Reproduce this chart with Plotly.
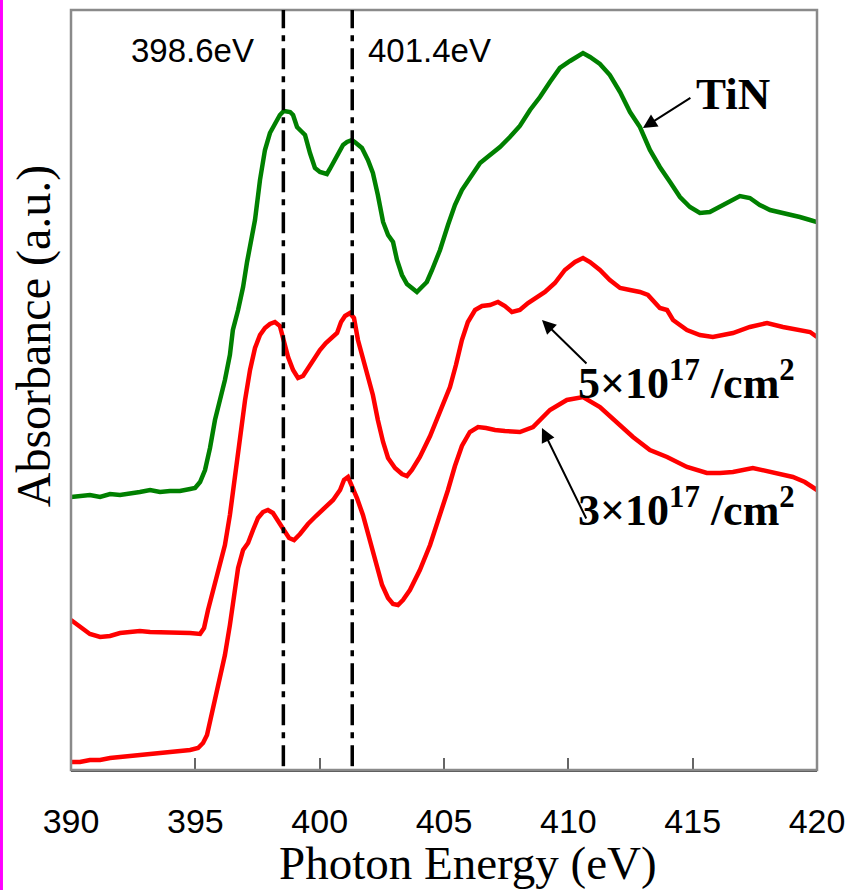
import plotly.graph_objects as go

# ---------------- data ----------------
tin_x = [390.0, 390.36, 390.76, 391.17, 391.57, 391.97, 392.37, 392.77, 393.18, 393.58, 393.98, 394.38,
         394.79, 394.99, 395.19, 395.39, 395.59, 395.79, 395.99, 396.19, 396.39, 396.51, 396.72, 396.92,
         397.08, 397.20, 397.40, 397.60, 397.80, 398.00, 398.20, 398.40, 398.56, 398.69, 398.81, 398.93,
         399.09, 399.29, 399.41, 399.61, 399.81, 400.01, 400.17, 400.29, 400.41, 400.54, 400.74, 400.94,
         401.10, 401.30, 401.46, 401.70, 401.94, 402.14, 402.34, 402.55, 402.75, 402.95, 403.11, 403.31,
         403.51, 403.71, 403.91, 404.11, 404.31, 404.52, 404.84, 405.16, 405.44, 405.72, 406.04, 406.45,
         406.85, 407.25, 407.65, 408.05, 408.46, 408.86, 409.26, 409.66, 410.07, 410.39, 410.59, 410.87,
         411.27, 411.67, 412.08, 412.48, 412.88, 413.28, 413.68, 414.09, 414.49, 414.89, 415.29, 415.69,
         416.10, 416.50, 416.90, 417.30, 417.70, 418.11, 418.51, 418.91, 419.31, 419.72, 420.0]
tin_y = [2.73, 2.74, 2.75, 2.73, 2.76, 2.75, 2.76, 2.78, 2.80, 2.78, 2.79, 2.79,
         2.81, 2.82, 2.88, 3.00, 3.22, 3.50, 3.70, 3.90, 4.15, 4.40, 4.60, 4.83,
         5.08, 5.25, 5.50, 5.90, 6.20, 6.37, 6.46, 6.55, 6.59, 6.59, 6.58, 6.55,
         6.43, 6.38, 6.35, 6.17, 6.02, 5.98, 5.97, 5.96, 6.01, 6.07, 6.15, 6.25,
         6.28, 6.30, 6.27, 6.22, 6.10, 5.97, 5.75, 5.48, 5.35, 5.28, 5.10, 4.95,
         4.86, 4.82, 4.78, 4.83, 4.88, 5.00, 5.20, 5.45, 5.65, 5.80, 5.92, 6.07,
         6.15, 6.23, 6.33, 6.44, 6.60, 6.73, 6.88, 7.02, 7.09, 7.14, 7.17, 7.13,
         7.06, 6.95, 6.78, 6.58, 6.43, 6.20, 6.03, 5.88, 5.73, 5.63, 5.57, 5.58,
         5.63, 5.68, 5.74, 5.72, 5.65, 5.60, 5.58, 5.55, 5.53, 5.50, 5.48]

d5_x = [390.0, 390.36, 390.76, 391.17, 391.57, 391.97, 392.37, 392.77, 393.18, 393.58, 393.98, 394.38,
        394.79, 395.19, 395.35, 395.51, 395.67, 395.83, 395.99, 396.19, 396.39, 396.59, 396.80, 397.00,
        397.20, 397.40, 397.60, 397.80, 398.00, 398.20, 398.40, 398.56, 398.73, 398.93, 399.13, 399.33,
        399.53, 399.77, 400.01, 400.25, 400.49, 400.70, 400.86, 401.02, 401.22, 401.38, 401.54, 401.74,
        401.94, 402.14, 402.34, 402.55, 402.75, 403.03, 403.31, 403.51, 403.71, 404.03, 404.44, 404.84,
        405.24, 405.48, 405.72, 405.96, 406.25, 406.53, 406.85, 407.17, 407.45, 407.73, 408.05, 408.38,
        408.66, 409.06, 409.46, 409.86, 410.27, 410.59, 410.87, 411.27, 411.67, 412.08, 412.48, 412.88,
        413.20, 413.40, 413.68, 413.97, 414.21, 414.77, 415.29, 415.81, 416.62, 417.30, 417.99, 418.63,
        419.31, 419.72, 420.0]
d5_y = [1.50, 1.44, 1.36, 1.33, 1.34, 1.37, 1.38, 1.39, 1.38, 1.38, 1.38, 1.37,
        1.37, 1.36, 1.42, 1.60, 1.75, 1.90, 2.03, 2.25, 2.55, 2.95, 3.30, 3.70,
        4.00, 4.22, 4.35, 4.42, 4.46, 4.48, 4.44, 4.30, 4.13, 4.00, 3.92, 3.94,
        4.02, 4.12, 4.20, 4.27, 4.33, 4.37, 4.48, 4.54, 4.57, 4.52, 4.30, 4.12,
        3.95, 3.75, 3.50, 3.28, 3.12, 3.02, 2.96, 2.94, 3.00, 3.13, 3.34, 3.58,
        3.83, 4.05, 4.30, 4.48, 4.60, 4.64, 4.65, 4.68, 4.64, 4.58, 4.60, 4.67,
        4.72, 4.78, 4.87, 5.00, 5.08, 5.12, 5.08, 5.00, 4.90, 4.82, 4.80, 4.78,
        4.75, 4.70, 4.62, 4.60, 4.50, 4.40, 4.35, 4.33, 4.37, 4.43, 4.47, 4.43,
        4.40, 4.38, 4.33]

d3_x = [390.0, 390.36, 390.76, 391.17, 391.57, 391.97, 392.37, 392.77, 393.18, 393.58, 393.98, 394.38,
        394.79, 395.11, 395.31, 395.47, 395.63, 395.79, 395.99, 396.19, 396.39, 396.55, 396.72, 396.92,
        397.12, 397.32, 397.52, 397.72, 397.92, 398.12, 398.32, 398.56, 398.77, 398.97, 399.21, 399.53,
        399.85, 400.21, 400.54, 400.82, 400.98, 401.14, 401.30, 401.50, 401.74, 402.02, 402.26, 402.51,
        402.75, 402.95, 403.15, 403.35, 403.63, 404.03, 404.44, 404.84, 405.16, 405.44, 405.72, 406.04,
        406.37, 406.69, 407.05, 407.45, 407.85, 408.05, 408.58, 409.26, 409.94, 410.59, 411.27, 411.95,
        412.60, 413.28, 413.97, 414.77, 415.57, 416.10, 416.62, 417.42, 418.23, 419.03, 419.51, 420.0]
d3_y = [0.08, 0.08, 0.10, 0.10, 0.12, 0.13, 0.13, 0.14, 0.15, 0.16, 0.17, 0.18,
        0.20, 0.22, 0.27, 0.35, 0.52, 0.70, 0.90, 1.15, 1.45, 1.75, 2.02, 2.20,
        2.27, 2.40, 2.52, 2.58, 2.60, 2.57, 2.50, 2.40, 2.32, 2.30, 2.36, 2.46,
        2.54, 2.62, 2.70, 2.80, 2.90, 2.93, 2.84, 2.72, 2.55, 2.30, 2.05, 1.85,
        1.72, 1.66, 1.65, 1.70, 1.80, 2.00, 2.25, 2.54, 2.80, 3.04, 3.24, 3.38,
        3.43, 3.42, 3.40, 3.39, 3.38, 3.38, 3.43, 3.60, 3.70, 3.73, 3.63, 3.47,
        3.33, 3.20, 3.13, 3.03, 2.97, 2.97, 2.98, 3.02, 2.98, 2.93, 2.88, 2.80]

peak_lines = [398.54, 401.31]
peak_labels = ["398.6eV", "401.4eV"]
x_ticks = [390, 395, 400, 405, 410, 415, 420]

# ---------------- figure ----------------
fig = go.Figure()
fig.add_trace(go.Scatter(x=tin_x, y=tin_y, mode="lines", line=dict(color="#008000", width=4.5), name="TiN"))
fig.add_trace(go.Scatter(x=d5_x, y=d5_y, mode="lines", line=dict(color="#ff0000", width=4.5), name="5e17"))
fig.add_trace(go.Scatter(x=d3_x, y=d3_y, mode="lines", line=dict(color="#ff0000", width=4.5), name="3e17"))

# frame (gray) and left magenta border
fig.add_shape(type="rect", xref="paper", yref="paper", x0=0, x1=1, y0=0, y1=1,
              line=dict(color="#8a8a8a", width=2.5), layer="above")
fig.add_shape(type="line", xref="paper", yref="paper", x0=-0.0932, x1=-0.0932, y0=-0.2, y1=1.02,
              line=dict(color="#ff00ff", width=3))

for xv in peak_lines:
    fig.add_shape(type="line", xref="x", yref="paper", x0=xv, x1=xv, y0=0.005, y1=1,
                  line=dict(color="black", width=3.5, dash="21px,7px,6px,7px"))

serif = "Liberation Serif, Times New Roman, serif"
sans = "Liberation Sans, Arial, sans-serif"

ann = []
ann.append(dict(x=394.87, y=7.20, text=peak_labels[0], showarrow=False, xref="x", yref="y",
                font=dict(family=sans, size=33, color="black")))
ann.append(dict(x=404.43, y=7.20, text=peak_labels[1], showarrow=False, xref="x", yref="y",
                font=dict(family=sans, size=33, color="black")))
ann.append(dict(x=416.62, y=6.76, text="<b>TiN</b>", showarrow=False, xref="x", yref="y",
                font=dict(family=serif, size=45, color="black")))
ann.append(dict(x=410.31, y=3.90, text="<b>5\u00d710<sup>17</sup> /cm<sup>2</sup></b>", showarrow=False,
                xref="x", yref="y", xanchor="left", font=dict(family=serif, size=44, color="black")))
ann.append(dict(x=410.31, y=2.63, text="<b>3\u00d710<sup>17</sup> /cm<sup>2</sup></b>", showarrow=False,
                xref="x", yref="y", xanchor="left", font=dict(family=serif, size=44, color="black")))
# arrows
for (tx, ty, hx, hy) in [(414.97, 6.73, 413.0, 6.42), (410.79, 4.05, 408.94, 4.50), (410.75, 2.50, 408.94, 3.42)]:
    ann.append(dict(x=hx, y=hy, ax=tx, ay=ty, xref="x", yref="y", axref="x", ayref="y", text="",
                    showarrow=True, arrowhead=2, arrowsize=1.4, arrowwidth=2, arrowcolor="black"))
# axis titles
ann.append(dict(x=-0.0496, y=0.572, xref="paper", yref="paper", text="Absorbance (a.u.)", textangle=-90,
                xanchor="center", yanchor="middle",
                showarrow=False, font=dict(family=serif, size=48, color="black")))
ann.append(dict(x=0.532, y=-0.1225, xref="paper", yref="paper", text="Photon Energy (eV)",
                xanchor="center", yanchor="middle",
                showarrow=False, font=dict(family=serif, size=47, color="black")))

fig.update_layout(
    width=850, height=890,
    margin=dict(l=71, r=33, t=10, b=120, autoexpand=False),
    paper_bgcolor="white", plot_bgcolor="white",
    showlegend=False,
    annotations=ann,
    xaxis=dict(range=[390, 420], tickvals=x_ticks, ticktext=[str(v) for v in x_ticks],
               ticks="inside", ticklen=12, tickwidth=1.5, tickcolor="#666666",
               showline=True, linecolor="#505050", linewidth=2, showgrid=False, zeroline=False,
               automargin=False, ticklabelstandoff=20,
               tickfont=dict(family=sans, size=34, color="black")),
    yaxis=dict(range=[0, 7.6], showticklabels=False, ticks="", showgrid=False, zeroline=False,
               showline=False, automargin=False),
)

fig.write_html("out.html", config={"displayModeBar": False},
               post_script="document.body.style.margin='0';document.body.style.padding='0';")
